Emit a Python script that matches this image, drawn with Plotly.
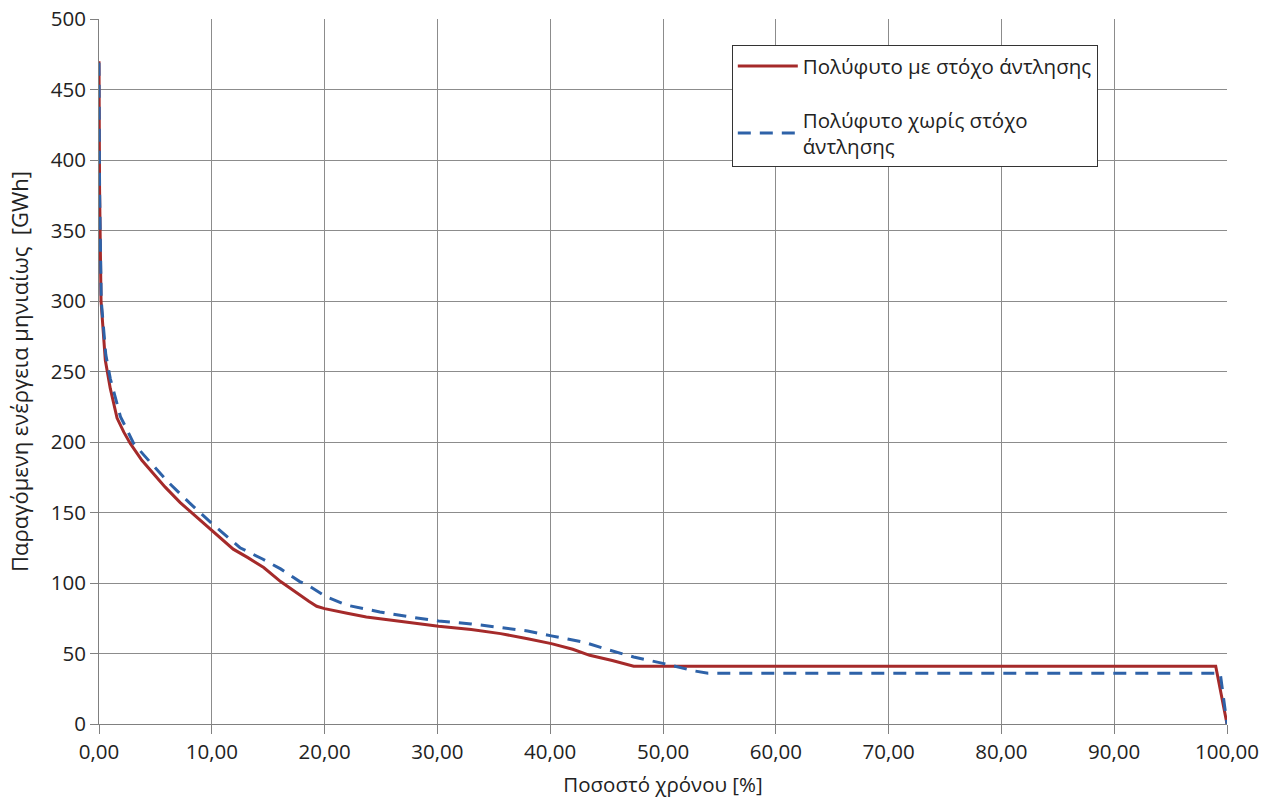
import plotly.graph_objects as go

# Series 1: with pumping target
x_red = [0.0, 0.05, 0.18, 0.56, 1.0, 1.6, 2.2, 2.77, 3.8, 4.8, 5.87, 7.2, 8.5, 10.0, 11.9, 13.2, 14.6, 16.1, 17.5, 18.6, 19.3, 20.0, 22.0, 23.7, 27.0, 30.1, 33.0, 35.6, 38.0, 40.1, 42.0, 43.5, 45.5, 47.4, 60.0, 80.0, 99.0, 100.0]
y_red = [470, 380, 300, 258, 238, 217, 207, 199, 187, 178, 168, 157, 148, 137, 124, 118, 111, 101, 93, 87, 83.5, 81.8, 78.5, 75.9, 72.5, 69.3, 67.0, 64.1, 60.5, 57.0, 53.0, 48.7, 45.0, 41.0, 41.0, 41.0, 41.0, 0]

# Series 2: without pumping target
x_blue = [0.0, 0.05, 0.2, 0.6, 1.0, 1.9, 2.4, 3.07, 4.5, 6.2, 8.0, 9.9, 12.5, 14.5, 16.1, 17.8, 18.6, 20.2, 22.0, 24.9, 27.5, 30.1, 33.0, 35.6, 38.0, 40.1, 43.0, 45.3, 47.4, 50.0, 52.8, 54.0, 70.0, 99.4, 100.0]
y_blue = [469, 380, 300, 262, 245, 218, 210, 199, 186, 171, 157, 143, 125, 117, 110, 101, 98, 90, 84.2, 79.5, 76.0, 73.0, 71.0, 68.5, 66.0, 62.5, 58.0, 52.3, 47.5, 43.0, 37.6, 36.0, 36.0, 36.0, 0]

name_red = "Πολύφυτο με στόχο άντλησης"
name_blue = "Πολύφυτο χωρίς στόχο<br>άντλησης"

x_title = "Ποσοστό χρόνου [%]"
y_title = "Παραγόμενη ενέργεια μηνιαίως  [GWh]"

font_family = "Open Sans, Noto Sans, DejaVu Sans, sans-serif"

fig = go.Figure()
fig.add_trace(go.Scatter(x=x_red, y=y_red, mode="lines", name=name_red,
                         legendgroup="a",
                         line=dict(color="#A52A2A", width=3)))
fig.add_trace(go.Scatter(x=x_blue, y=y_blue, mode="lines", name=name_blue,
                         legendgroup="b",
                         line=dict(color="#2E62A8", width=3, dash="13px,9px")))

grid = "#8c8c8c"
fig.update_layout(
    width=1265, height=807,
    margin=dict(l=99, r=38, t=19, b=83),
    paper_bgcolor="white", plot_bgcolor="white",
    separators=", ",
    font=dict(family=font_family, size=20.5, color="#222222"),
    showlegend=True,
    legend=dict(x=0.561, y=0.963, xanchor="left", yanchor="top",
                bordercolor="#333333", borderwidth=1, bgcolor="white",
                font=dict(size=20.5), tracegroupgap=24, traceorder="grouped",
                itemwidth=60),
    xaxis=dict(range=[0, 100], dtick=10, tick0=0, tickformat=".2f",
               automargin=False,
               showgrid=True, gridcolor=grid, gridwidth=1,
               showline=True, linecolor="#808080", linewidth=1,
               ticks="outside", ticklen=9, tickcolor="#808080",
               zeroline=False, mirror=False,
               title=dict(text=x_title, font=dict(size=20.5), standoff=14)),
    yaxis=dict(range=[0, 500], dtick=50, tick0=0,
               automargin=False,
               showgrid=True, gridcolor=grid, gridwidth=1,
               showline=True, linecolor="#808080", linewidth=1,
               ticks="outside", ticklen=8, tickcolor="#808080",
               zeroline=False,
               title=dict(text=y_title, font=dict(size=22), standoff=16)),
)

fig.write_html("out.html",
               config={"displayModeBar": False},
               post_script="document.body.style.margin='0';document.body.style.overflow='hidden';")
